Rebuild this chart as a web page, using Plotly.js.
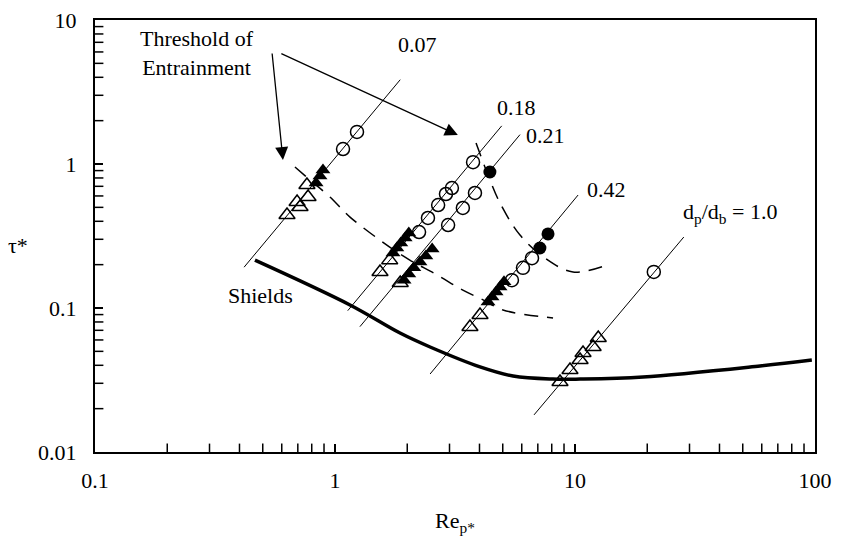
<!DOCTYPE html>
<html><head><meta charset="utf-8">
<script src="https://cdn.plot.ly/plotly-3.0.1.min.js"></script>
<style>html,body{margin:0;padding:0;background:#fff;}#chart{width:843px;height:547px;}</style>
</head><body><div id="chart"></div>
<script>
// Shields curve
const shieldsX = [0.464, 1.155, 1.866, 2.49, 4.02, 5.52, 8.1, 10.5, 19.2, 59, 97];
const shieldsY = [0.215, 0.105, 0.067, 0.0536, 0.039, 0.0337, 0.0321, 0.0321, 0.0332, 0.0396, 0.0435];
// thin lines for each dp/db (endpoints)
const ratioLabels = ['0.07', '0.18', '0.21', '0.42', 'd<sub>p</sub>/d<sub>b</sub> = 1.0'];
const lineX = [[0.418, 1.87], [1.13, 4.95], [1.27, 5.9], [2.49, 10.3], [6.75, 28.4]];
const lineY = [[0.192, 3.85], [0.0958, 1.84], [0.0742, 1.6], [0.0348, 0.609], [0.0181, 0.311]];
const labelX = [2.2, 5.68, 7.57, 13.5, 44.2];
const labelY = [6.81, 2.45, 1.59, 0.66, 0.457];
// threshold of entrainment dashed curves
const thr1X = [0.681, 0.787, 0.953, 1.155, 1.69, 2.05, 2.66, 3.41, 4.14, 5.01, 8.10];
const thr1Y = [0.953, 0.774, 0.590, 0.428, 0.265, 0.215, 0.170, 0.133, 0.114, 0.0969, 0.0853];
const thr2X = [3.87, 4.34, 4.87, 5.90, 7.50, 9.81, 13.6];
const thr2Y = [1.40, 0.839, 0.536, 0.321, 0.222, 0.178, 0.199];
// markers
const openTriX = [0.631, 0.695, 0.715, 0.764, 0.772, 1.54, 1.69, 1.87, 3.65, 4.02, 8.66, 9.53, 10.5, 10.8, 11.9, 12.5];
const openTriY = [0.442, 0.545, 0.503, 0.715, 0.590, 0.178, 0.215, 0.149, 0.0738, 0.0894, 0.0306, 0.0371, 0.0435, 0.0487, 0.0536, 0.0619];
const fillTriX = [0.834, 0.866, 0.891, 1.745, 1.81, 1.88, 1.96, 2.03, 1.94, 2.03, 2.13, 2.26, 2.39, 2.54, 4.34, 4.51, 4.69, 4.87, 5.06];
const fillTriY = [0.738, 0.826, 0.908, 0.241, 0.261, 0.283, 0.306, 0.332, 0.156, 0.172, 0.190, 0.209, 0.230, 0.257, 0.110, 0.119, 0.129, 0.140, 0.152];
const openCirX = [1.08, 1.235, 3.76, 3.07, 2.90, 2.69, 2.44, 2.24, 3.83, 3.41, 2.96, 6.62, 6.07, 5.46, 21.3];
const openCirY = [1.27, 1.67, 1.03, 0.681, 0.619, 0.519, 0.422, 0.337, 0.629, 0.495, 0.377, 0.222, 0.190, 0.156, 0.178];
const fillCirX = [4.42, 7.14, 7.72];
const fillCirY = [0.88, 0.261, 0.327];
// minor tick values on each axis
const xMinor = [0.2, 0.3, 0.4, 0.5, 0.6, 0.7, 0.8, 0.9, 2, 3, 4, 5, 6, 7, 8, 9, 20, 30, 40, 50, 60, 70, 80, 90];
const yMinor = [0.02, 0.03, 0.04, 0.05, 0.06, 0.07, 0.08, 0.09, 0.2, 0.3, 0.4, 0.5, 0.6, 0.7, 0.8, 0.9, 2, 3, 4, 5, 6, 7, 8, 9];

const FONT = 'Liberation Serif, Times New Roman, serif';
const traces = [];
for (let i = 0; i < lineX.length; i++) {
  traces.push({x: lineX[i], y: lineY[i], mode: 'lines', line: {color: '#000', width: 1}, hoverinfo: 'skip'});
}
traces.push({x: thr1X, y: thr1Y, mode: 'lines', line: {color: '#000', width: 1.5, dash: '14px,9px', shape: 'spline'}});
traces.push({x: thr2X, y: thr2Y, mode: 'lines', line: {color: '#000', width: 1.5, dash: '14px,9px', shape: 'spline'}});
traces.push({x: shieldsX, y: shieldsY, mode: 'lines', line: {color: '#000', width: 3.5, shape: 'spline'}});
traces.push({x: openTriX, y: openTriY, mode: 'markers', marker: {symbol: 'triangle-up-open', size: 14, color: '#000', line: {width: 1.5}}});
traces.push({x: fillTriX, y: fillTriY, mode: 'markers', marker: {symbol: 'triangle-up', size: 13, color: '#000'}});
traces.push({x: openCirX, y: openCirY, mode: 'markers', marker: {symbol: 'circle-open', size: 13, color: '#000', line: {width: 1.5}}});
traces.push({x: fillCirX, y: fillCirY, mode: 'markers', marker: {symbol: 'circle', size: 13, color: '#000'}});
// minor ticks as marker glyphs on the axes; the outer half is clipped by the plot area
traces.push({x: xMinor, y: xMinor.map(() => 0.01), mode: 'markers', cliponaxis: true,
  marker: {symbol: 'line-ns', size: 12, color: '#000', line: {width: 1.5, color: '#000'}}, hoverinfo: 'skip'});
traces.push({x: yMinor.map(() => 0.1), y: yMinor, mode: 'markers', cliponaxis: true,
  marker: {symbol: 'line-ew', size: 12, color: '#000', line: {width: 1.5, color: '#000'}}, hoverinfo: 'skip'});

const L = Math.log10;
const TF = {family: FONT, size: 22, color: '#000'};
const annotations = [];
for (let i = 0; i < ratioLabels.length; i++) {
  annotations.push({x: L(labelX[i]), y: L(labelY[i]), text: ratioLabels[i], showarrow: false, font: TF});
}
annotations.push({x: L(0.266), y: L(5.9), text: 'Threshold of<br>Entrainment', showarrow: false, font: TF});
annotations.push({x: L(0.487), y: L(0.123), text: 'Shields', showarrow: false, font: TF});
annotations.push({x: L(0.607), y: L(1.066), ax: -11, ay: -108, text: '', showarrow: true, arrowhead: 2, arrowsize: 2, arrowwidth: 1.3, arrowcolor: '#000'});
annotations.push({x: L(3.25), y: L(1.59), ax: -178, ay: -82, text: '', showarrow: true, arrowhead: 2, arrowsize: 2, arrowwidth: 1.3, arrowcolor: '#000'});
annotations.push({xref: 'paper', yref: 'paper', x: 0.5, y: -0.162, xanchor: 'center', yanchor: 'middle', text: 'Re<sub>p*</sub>', showarrow: false, font: TF});
annotations.push({xref: 'paper', yref: 'paper', x: -0.107, y: 0.479, xanchor: 'center', yanchor: 'middle', text: 'τ*', showarrow: false, font: TF});

const axisCommon = {type: 'log', dtick: 1, ticks: 'inside', ticklen: 8, tickwidth: 2, tickcolor: '#000',
  showgrid: false, zeroline: false, showline: true, linecolor: '#000', linewidth: 2, mirror: true,
  tickfont: {family: FONT, size: 22, color: '#000'}};
const layout = {
  width: 843, height: 547,
  margin: {l: 95, r: 28, t: 20, b: 95},
  paper_bgcolor: '#fff', plot_bgcolor: '#fff',
  showlegend: false,
  font: {family: FONT, size: 22, color: '#000'},
  xaxis: Object.assign({}, axisCommon, {range: [-1, 2], ticklabelstandoff: 8}),
  yaxis: Object.assign({}, axisCommon, {range: [-2, 1], ticklabelstandoff: 12}),
  annotations: annotations
};
Plotly.newPlot('chart', traces, layout, {staticPlot: true});
</script></body></html>
